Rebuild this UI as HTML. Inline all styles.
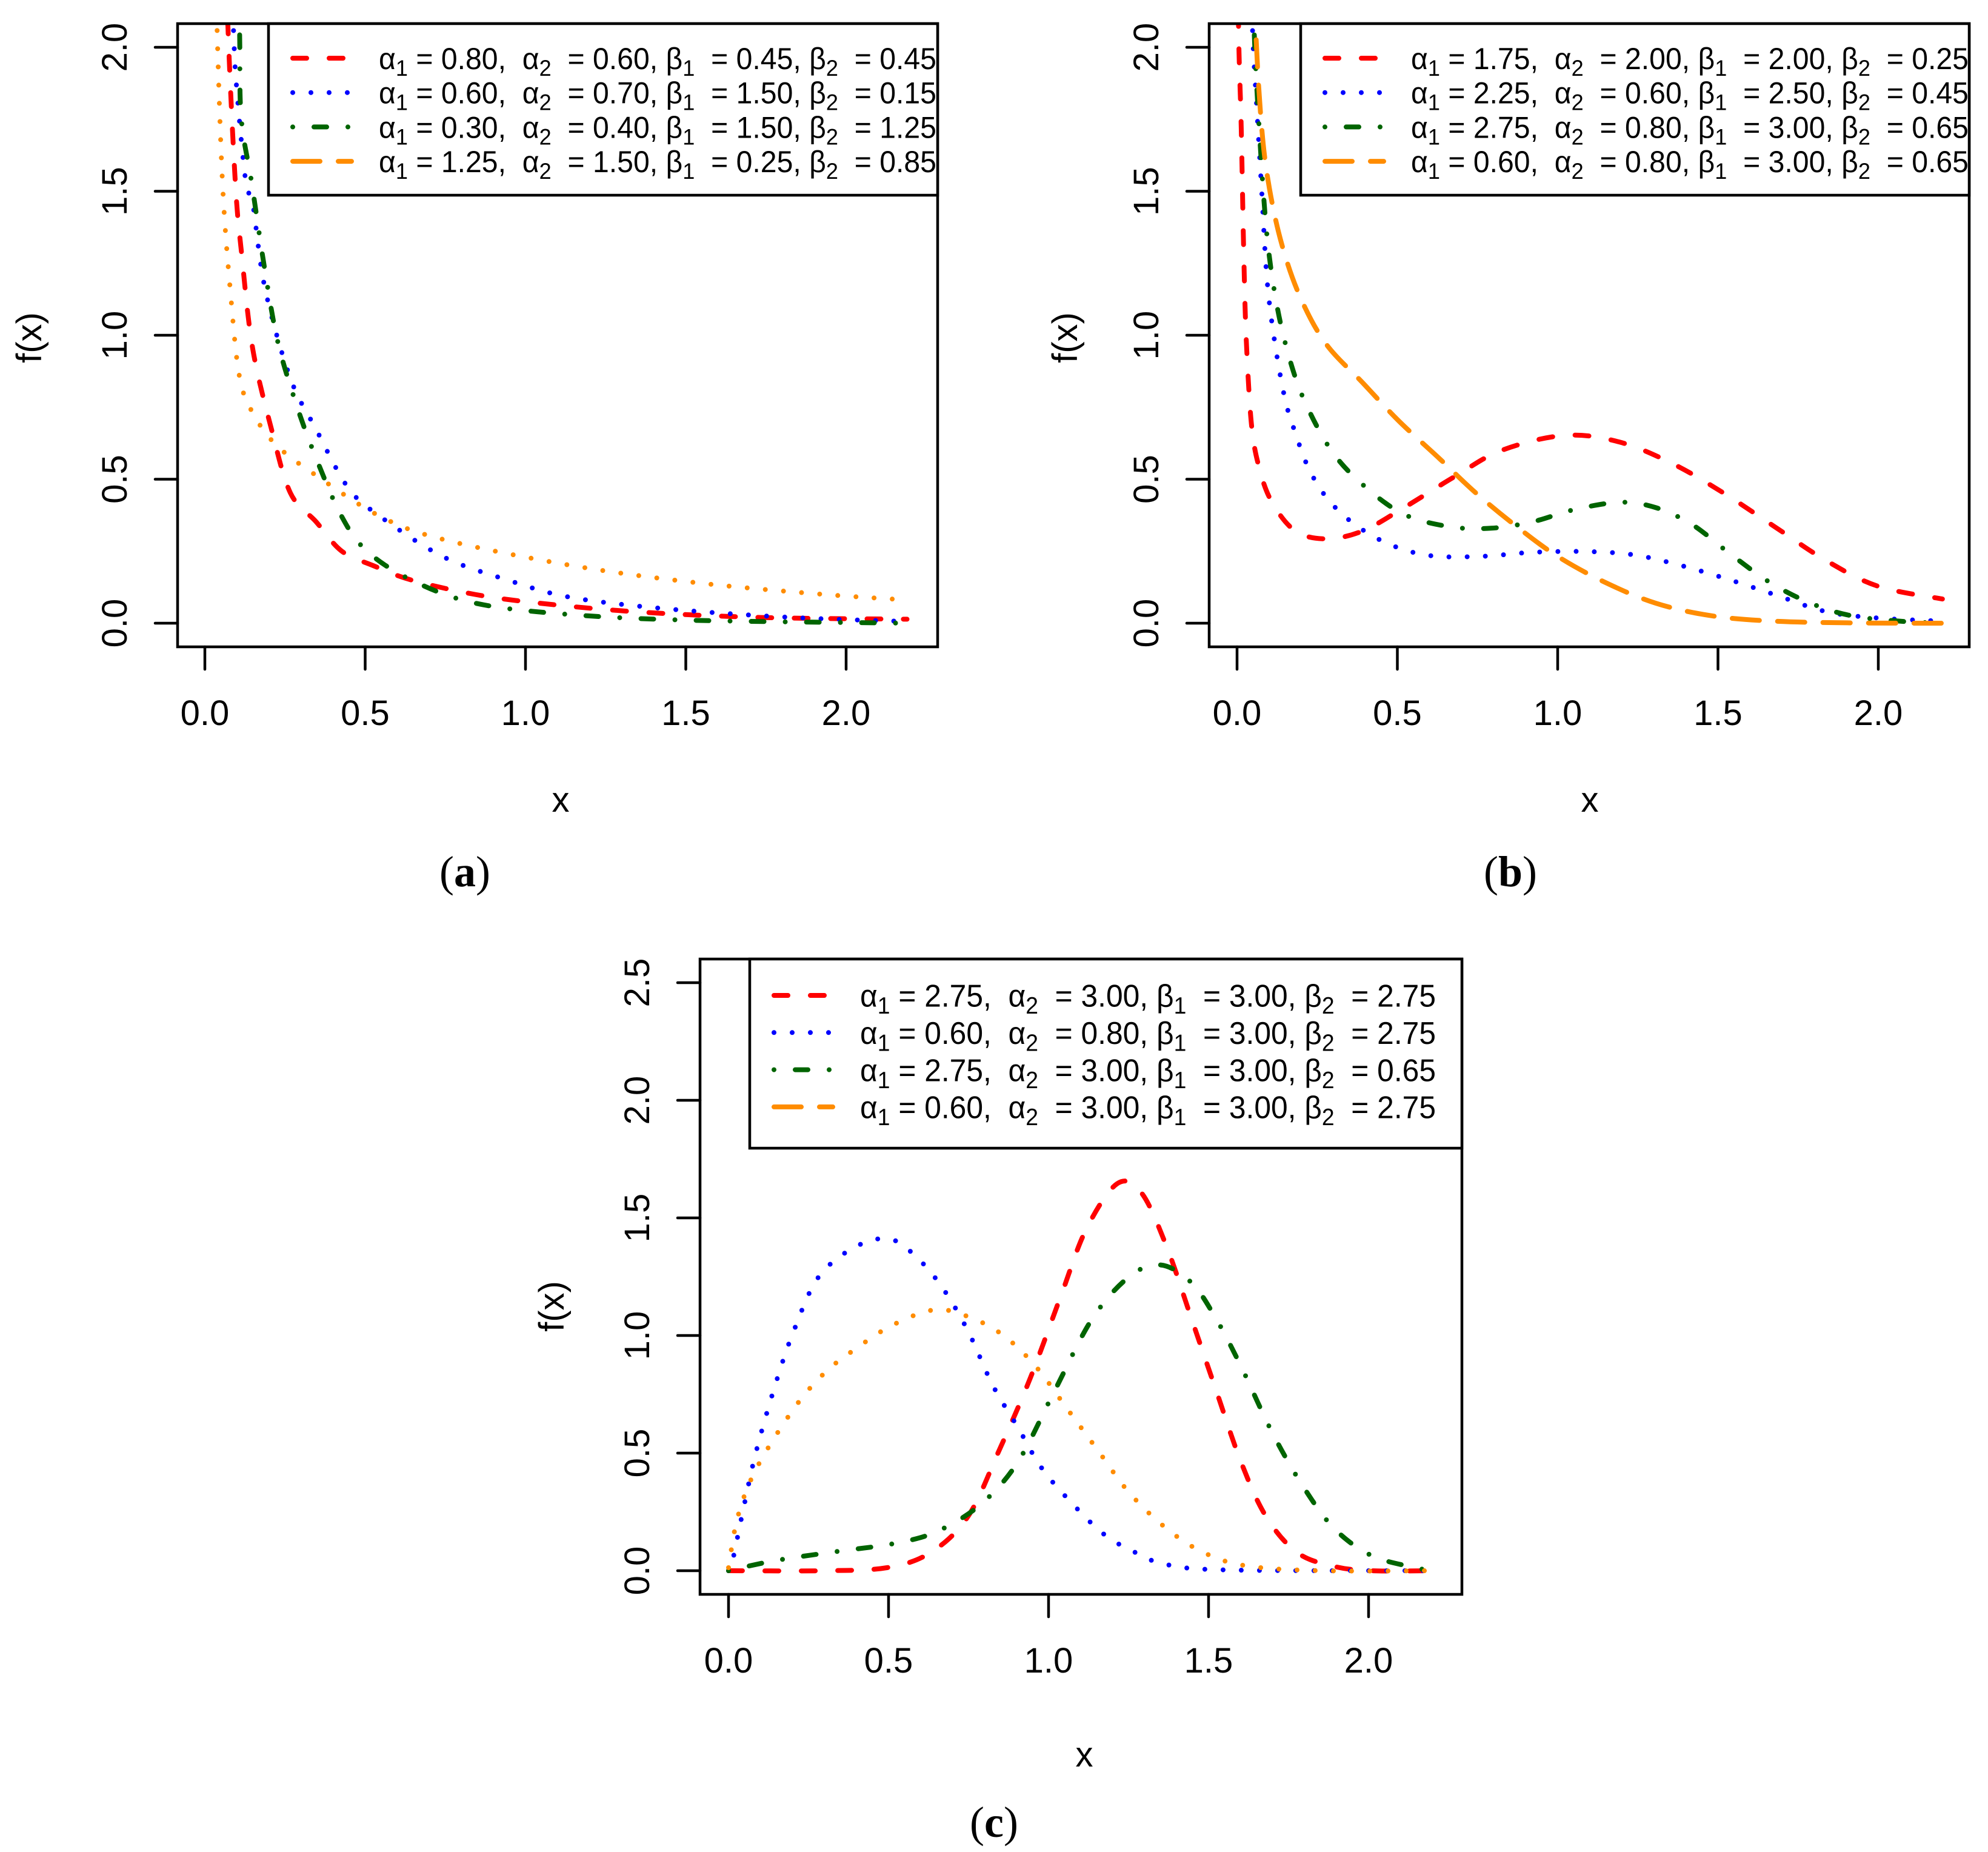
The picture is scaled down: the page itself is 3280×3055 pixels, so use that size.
<!DOCTYPE html>
<html><head><meta charset="utf-8"><style>
html,body{margin:0;padding:0;background:#fff}
svg{display:block}
text{font-family:"Liberation Sans",sans-serif}
</style></head>
<body>
<svg id="fig" xmlns="http://www.w3.org/2000/svg" width="3280" height="3055" viewBox="0 0 3280 3055">
<rect x="0" y="0" width="3280" height="3055" fill="#fff"/>
</svg>
<script>
// ---------- data ----------
const xTicks = [0, 0.5, 1.0, 1.5, 2.0];
const xTickLabels = ["0.0", "0.5", "1.0", "1.5", "2.0"];
const yTicksAB = [0, 0.5, 1.0, 1.5, 2.0];
const yTickLabelsAB = ["0.0", "0.5", "1.0", "1.5", "2.0"];
const yTicksC = [0, 0.5, 1.0, 1.5, 2.0, 2.5];
const yTickLabelsC = ["0.0", "0.5", "1.0", "1.5", "2.0", "2.5"];

// panel (a)
const aRedX = [0.06,0.072,0.095,0.115,0.149,0.208,0.267,0.347,0.426,0.525,0.644,0.842,1.04,1.34,1.73,2.19];
const aRedY = [2.6,2.07,1.53,1.28,0.955,0.673,0.452,0.352,0.251,0.2,0.15,0.1,0.07,0.04,0.02,0.014];
const aBlueX = [0.075,0.089,0.099,0.128,0.149,0.188,0.267,0.347,0.446,0.545,0.743,0.941,1.14,1.44,1.83,2.19];
const aBlueY = [2.5,2.07,1.86,1.53,1.46,1.16,0.85,0.673,0.472,0.372,0.231,0.151,0.09,0.05,0.02,0.006];
const aGreenX = [0.095,0.108,0.113,0.146,0.188,0.228,0.287,0.347,0.426,0.505,0.644,0.842,1.14,1.53,2.19];
const aGreenY = [2.5,2.07,1.76,1.53,1.22,0.975,0.754,0.573,0.372,0.251,0.15,0.07,0.03,0.01,0.0];
const aOrangeX = [0.03,0.038,0.055,0.079,0.109,0.158,0.228,0.347,0.545,0.743,1.14,1.53,1.93,2.2];
const aOrangeY = [2.5,2.07,1.53,1.16,0.85,0.714,0.613,0.513,0.372,0.291,0.201,0.141,0.1,0.08];

// panel (b)
const bRedX = [0.002,0.005,0.013,0.021,0.029,0.045,0.069,0.109,0.182,0.278,0.391,0.519,0.68,0.825,1.02,1.19,1.355,1.516,1.677,1.838,2.0,2.2];
const bRedY = [2.5,2.05,1.72,1.28,0.98,0.69,0.54,0.42,0.32,0.293,0.32,0.40,0.51,0.60,0.652,0.63,0.556,0.453,0.335,0.217,0.128,0.084];
const bBlueX = [0.04,0.048,0.061,0.077,0.093,0.117,0.15,0.182,0.222,0.278,0.359,0.471,0.6,0.76,0.921,1.082,1.227,1.355,1.516,1.677,1.838,2.0,2.2];
const bBlueY = [2.5,2.07,1.8,1.5,1.2,0.98,0.777,0.66,0.541,0.438,0.35,0.276,0.235,0.232,0.246,0.249,0.239,0.209,0.158,0.099,0.04,0.018,0.007];
const bGreenX = [0.045,0.053,0.069,0.093,0.125,0.166,0.214,0.294,0.391,0.519,0.664,0.793,0.921,1.05,1.195,1.307,1.42,1.532,1.66,1.79,1.92,2.08,2.2];
const bGreenY = [2.5,2.07,1.72,1.35,1.1,0.91,0.763,0.6,0.482,0.379,0.335,0.33,0.352,0.394,0.42,0.401,0.342,0.246,0.143,0.069,0.025,0.006,0.0];
const bOrangeX = [0.05,0.058,0.077,0.101,0.141,0.198,0.278,0.391,0.503,0.632,0.744,0.873,1.0,1.146,1.307,1.484,1.677,1.92,2.2];
const bOrangeY = [2.5,2.07,1.72,1.51,1.31,1.13,0.969,0.836,0.704,0.571,0.453,0.335,0.232,0.143,0.069,0.025,0.007,0.001,0.0];

// panel (c)
const cRedX = [0,0.3,0.495,0.631,0.748,0.845,0.942,1.039,1.117,1.214,1.29,1.369,1.447,1.524,1.602,1.68,1.777,1.893,2.01,2.2];
const cRedY = [0,0,0.013,0.077,0.23,0.51,0.816,1.17,1.45,1.645,1.607,1.378,1.07,0.765,0.46,0.23,0.077,0.018,0,0];
const cBlueX = [0.0,0.01,0.049,0.087,0.146,0.204,0.282,0.398,0.505,0.592,0.67,0.748,0.825,0.903,0.98,1.078,1.175,1.272,1.369,1.563,2.2];
const cBlueY = [0.0,0.026,0.28,0.51,0.79,1.02,1.25,1.378,1.41,1.327,1.2,1.02,0.79,0.612,0.434,0.28,0.153,0.077,0.026,0.003,0];
const cGreenX = [0,0.146,0.34,0.515,0.65,0.786,0.903,1.019,1.136,1.252,1.35,1.447,1.524,1.602,1.699,1.796,1.893,2.01,2.146,2.2];
const cGreenY = [0,0.043,0.082,0.115,0.166,0.28,0.46,0.765,1.07,1.25,1.3,1.224,1.07,0.867,0.587,0.357,0.179,0.064,0.013,0];
const cOrangeX = [0,0.029,0.087,0.204,0.301,0.398,0.515,0.65,0.767,0.864,0.961,1.058,1.155,1.252,1.369,1.485,1.621,1.854,2.2];
const cOrangeY = [0.013,0.23,0.434,0.689,0.842,0.944,1.046,1.11,1.07,0.995,0.867,0.689,0.51,0.332,0.179,0.077,0.02,0,0];

const legendA = [["0.80","0.60","0.45","0.45"],["0.60","0.70","1.50","0.15"],["0.30","0.40","1.50","1.25"],["1.25","1.50","0.25","0.85"]];
const legendB = [["1.75","2.00","2.00","0.25"],["2.25","0.60","2.50","0.45"],["2.75","0.80","3.00","0.65"],["0.60","0.80","3.00","0.65"]];
const legendC = [["2.75","3.00","3.00","2.75"],["0.60","0.80","3.00","2.75"],["2.75","3.00","3.00","0.65"],["0.60","3.00","3.00","2.75"]];

// ---------- drawing ----------
const NS = "http://www.w3.org/2000/svg";
const svg = document.getElementById("fig");
function mk(tag, attrs, parent) {
  const e = document.createElementNS(NS, tag);
  for (const k in attrs) e.setAttribute(k, attrs[k]);
  (parent || svg).appendChild(e);
  return e;
}
const COL = { red: "#FF0000", blue: "#0000FF", green: "#006400", orange: "#FF8C00" };
const DASH = { dash: "23 37", dot: "0 30", dashdot: "0 35 21 35", longdash: "45 30" };

function smoothPath(pts) {
  let d = "M" + pts[0][0].toFixed(1) + "," + pts[0][1].toFixed(1);
  for (let i = 0; i < pts.length - 1; i++) {
    const p0 = pts[i - 1] || pts[i], p1 = pts[i], p2 = pts[i + 1], p3 = pts[i + 2] || p2;
    const c1 = [p1[0] + (p2[0] - p0[0]) / 6, p1[1] + (p2[1] - p0[1]) / 6];
    const c2 = [p2[0] - (p3[0] - p1[0]) / 6, p2[1] - (p3[1] - p1[1]) / 6];
    d += " C" + c1[0].toFixed(1) + "," + c1[1].toFixed(1) + " " + c2[0].toFixed(1) + "," + c2[1].toFixed(1) + " " + p2[0].toFixed(1) + "," + p2[1].toFixed(1);
  }
  return d;
}

function panel(cfg) {
  const g = mk("g", {});
  
  
  const sx = v => cfg.x0 + v * cfg.kx;
  const sy = v => cfg.y0 - v * cfg.ky;
  const clipId = "clip-" + cfg.id;
  const cp = mk("clipPath", { id: clipId }, g);
  mk("rect", { x: cfg.L, y: cfg.T, width: cfg.R - cfg.L, height: cfg.B - cfg.T }, cp);

  const sg = mk("g", { "clip-path": "url(#" + clipId + ")" }, g);
  cfg.series.forEach(s => {
    const pts = s.x.map((xv, i) => [sx(xv), sy(s.y[i])]);
    const p = mk("path", { d: smoothPath(pts), fill: "none", stroke: COL[s.color], "stroke-width": 8,
      "stroke-linecap": "round", "stroke-linejoin": "round", "stroke-dasharray": DASH[s.dash] }, sg);
    
    
  });

  const box = mk("rect", { x: cfg.L, y: cfg.T, width: cfg.R - cfg.L, height: cfg.B - cfg.T, fill: "none", stroke: "#000", "stroke-width": 4.5 }, g);
  
  

  xTicks.forEach((t, i) => {
    mk("line", { x1: sx(t), x2: sx(t), y1: cfg.B, y2: cfg.B + 37, stroke: "#000", "stroke-width": 4.5, "stroke-linecap": "round" }, g);
    const tx = mk("text", { x: sx(t), y: cfg.B + 129, "font-size": 58, "text-anchor": "middle" }, g);
    tx.textContent = xTickLabels[i];
    
    
  });
  cfg.yt.forEach((t, i) => {
    mk("line", { x1: cfg.L - 37, x2: cfg.L, y1: sy(t), y2: sy(t), stroke: "#000", "stroke-width": 4.5, "stroke-linecap": "round" }, g);
    const bx = cfg.L - 84, by = sy(t);
    const ty = mk("text", { x: bx, y: by, "font-size": 58, "text-anchor": "middle", transform: "rotate(-90 " + bx + " " + by + ")" }, g);
    ty.textContent = cfg.ytl[i];
    
    
  });
  const yt = mk("text", { x: cfg.ylx, y: cfg.yly, "font-size": 58, "text-anchor": "middle", transform: "rotate(-90 " + cfg.ylx + " " + cfg.yly + ")" }, g);
  yt.textContent = "f(x)";
  
  
  const xt = mk("text", { x: cfg.xlx, y: cfg.xly, "font-size": 58, "text-anchor": "middle" }, g);
  xt.textContent = "x";
  
  
  const cap = mk("text", { x: cfg.capx, y: cfg.capy, "font-size": 72, "text-anchor": "middle", style: "font-family:'Liberation Serif',serif" }, g);
  const c1 = mk("tspan", {}, cap); c1.textContent = "(";
  const c2 = mk("tspan", { "font-weight": "bold" }, cap); c2.textContent = cfg.id;
  const c3 = mk("tspan", {}, cap); c3.textContent = ")";
  
  

  const lg = mk("g", {}, g);
  
  
  mk("rect", { x: cfg.legL, y: cfg.T, width: cfg.R - cfg.legL, height: cfg.legB - cfg.T, fill: "#fff", stroke: "#000", "stroke-width": 4.5 }, lg);
  cfg.series.forEach((s, i) => {
    const ry = cfg.legRow0 + i * cfg.legDy;
    const ent = mk("g", {}, lg);
    
    
    mk("line", { x1: cfg.legL + 40, x2: cfg.legL + 137, y1: ry, y2: ry, stroke: COL[s.color], "stroke-width": 8,
      "stroke-linecap": "round", "stroke-dasharray": DASH[s.legDash || s.dash] }, ent);
    const v = cfg.leg[i];
    const t = mk("text", { x: cfg.legL + 182, y: ry + cfg.legFs * 0.36, "font-size": cfg.legFs, textLength: cfg.legTL, lengthAdjust: "spacingAndGlyphs", style: "white-space:pre" }, ent);
    const parts = [["α", 0], ["1", 1], [" = " + v[0] + ",  α", 0], ["2", 1], ["  = " + v[1] + ", β", 0], ["1", 1], ["  = " + v[2] + ", β", 0], ["2", 1], ["  = " + v[3], 0]];
    let sub = false;
    parts.forEach(p => {
      const ts = mk("tspan", {}, t);
      if (p[1] && !sub) { ts.setAttribute("dy", cfg.legFs * 0.22); ts.setAttribute("font-size", cfg.legFs * 0.75); sub = true; }
      else if (!p[1] && sub) { ts.setAttribute("dy", -cfg.legFs * 0.22); sub = false; }
      ts.textContent = p[0];
    });
  });
}

panel({ id: "a", L: 293, R: 1547, T: 39, B: 1067, x0: 338, kx: 529, y0: 1028, ky: 475,
  yt: yTicksAB, ytl: yTickLabelsAB, ylx: 68, yly: 557, xlx: 925, xly: 1339, capx: 767, capy: 1462,
  legL: 443, legB: 322, legRow0: 96, legDy: 56.7, legFs: 50, legTL: 920, leg: legendA,
  series: [
    { x: aRedX, y: aRedY, color: "red", dash: "dash" },
    { x: aBlueX, y: aBlueY, color: "blue", dash: "dot" },
    { x: aGreenX, y: aGreenY, color: "green", dash: "dashdot" },
    { x: aOrangeX, y: aOrangeY, color: "orange", dash: "dot", legDash: "longdash" }
  ] });

panel({ id: "b", L: 1995, R: 3249, T: 39, B: 1067, x0: 2041, kx: 529, y0: 1028, ky: 475,
  yt: yTicksAB, ytl: yTickLabelsAB, ylx: 1777, yly: 557, xlx: 2623, xly: 1339, capx: 2492, capy: 1462,
  legL: 2146, legB: 322, legRow0: 96, legDy: 56.7, legFs: 50, legTL: 920, leg: legendB,
  series: [
    { x: bRedX, y: bRedY, color: "red", dash: "dash" },
    { x: bBlueX, y: bBlueY, color: "blue", dash: "dot" },
    { x: bGreenX, y: bGreenY, color: "green", dash: "dashdot" },
    { x: bOrangeX, y: bOrangeY, color: "orange", dash: "longdash" }
  ] });

panel({ id: "c", L: 1155, R: 2412, T: 1582, B: 2630, x0: 1202, kx: 528, y0: 2591, ky: 388,
  yt: yTicksC, ytl: yTickLabelsC, ylx: 930, yly: 2155, xlx: 1789, xly: 2914, capx: 1640, capy: 3030,
  legL: 1237, legB: 1894, legRow0: 1642, legDy: 61.3, legFs: 52, legTL: 950, leg: legendC,
  series: [
    { x: cRedX, y: cRedY, color: "red", dash: "dash" },
    { x: cBlueX, y: cBlueY, color: "blue", dash: "dot" },
    { x: cGreenX, y: cGreenY, color: "green", dash: "dashdot" },
    { x: cOrangeX, y: cOrangeY, color: "orange", dash: "dot", legDash: "longdash" }
  ] });
</script>
</body></html>
